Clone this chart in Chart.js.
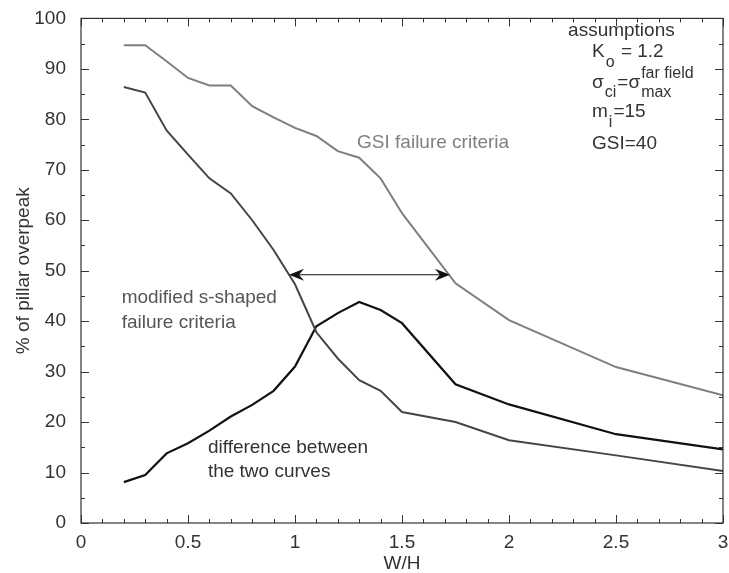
<!DOCTYPE html>
<html>
<head>
<meta charset="utf-8">
<script src="https://cdn.jsdelivr.net/npm/chart.js@4"></script>
<style>
  html, body { margin: 0; padding: 0; background: #fff; }
  canvas { display: block; }
</style>
</head>
<body>
<canvas id="chart" width="729" height="573"></canvas>
<script>
// W/H ratios where the curves were sampled
const wh = [0.2, 0.3, 0.4, 0.5, 0.6, 0.7, 0.8, 0.9, 1.0, 1.1, 1.2, 1.3, 1.4, 1.5, 1.75, 2.0, 2.5, 3.0];
// % of pillar overpeak
const gsiCurve = [94.7, 94.7, 91.5, 88.2, 86.7, 86.7, 82.6, 80.4, 78.3, 76.7, 73.7, 72.4, 68.3, 61.4, 47.5, 40.2, 30.9, 25.3];
const sShapedCurve = [86.4, 85.3, 77.8, 73.0, 68.3, 65.3, 60.0, 54.1, 47.3, 37.8, 32.6, 28.3, 26.2, 22.0, 20.0, 16.4, 13.4, 10.3];
const diffCurve = [8.1, 9.5, 13.8, 15.8, 18.3, 21.1, 23.4, 26.2, 31.0, 39.0, 41.6, 43.8, 42.2, 39.6, 27.5, 23.5, 17.6, 14.6];

const xTicks = [0, 0.5, 1, 1.5, 2, 2.5, 3];
const yTicks = [0, 10, 20, 30, 40, 50, 60, 70, 80, 90, 100];

// double arrow between the two failure curves (data coords)
const arrowFrom = [0.972, 49.2];
const arrowTo = [1.724, 49.2];

const FONT = '"Liberation Sans", Arial, sans-serif';

function pts(ys) {
    return wh.map(function (x, i) { return { x: x, y: ys[i] }; });
}

// text labels, anchored in data coordinates
const labels = [
    { x: 1.29, y: 75.4, parts: [{ t: 'GSI failure criteria' }], color: '#808080' },
    { x: 0.19, y: 44.6, parts: [{ t: 'modified s-shaped' }], color: '#555' },
    { x: 0.19, y: 39.6, parts: [{ t: 'failure criteria' }], color: '#555' },
    { x: 0.593, y: 15.0, parts: [{ t: 'difference between' }], color: '#333' },
    { x: 0.593, y: 10.1, parts: [{ t: 'the two curves' }], color: '#333' },
    { x: 2.276, y: 97.6, parts: [{ t: 'assumptions' }], color: '#333' },
    { x: 2.388, y: 93.3, parts: [{ t: 'K' }, { sub: 'o' }, { t: ' = 1.2' }], color: '#333' },
    { x: 2.388, y: 87.3, parts: [{ t: '\u03c3' }, { sub: 'ci' }, { t: '=\u03c3' }, { sup: 'far field', sub: 'max' }], color: '#333' },
    { x: 2.388, y: 81.4, parts: [{ t: 'm' }, { sub: 'i' }, { t: '=15' }], color: '#333' },
    { x: 2.388, y: 75.2, parts: [{ t: 'GSI=40' }], color: '#333' }
];

function drawArrowHead(ctx, x, y, dir) {
    // dir = +1 points right, -1 points left
    ctx.beginPath();
    ctx.moveTo(x, y);
    ctx.lineTo(x - dir * 15, y - 6);
    ctx.lineTo(x - dir * 10, y);
    ctx.lineTo(x - dir * 15, y + 6);
    ctx.closePath();
    ctx.fill();
}

const decor = {
    id: 'decor',
    afterDatasetsDraw: function (chart) {
        const ctx = chart.ctx;
        const xs = chart.scales.x, ys = chart.scales.y;
        const a = chart.chartArea;
        ctx.save();

        // frame
        ctx.strokeStyle = '#333';
        ctx.lineWidth = 1.2;
        ctx.strokeRect(a.left, a.top, a.right - a.left, a.bottom - a.top);

        // inward ticks
        ctx.lineWidth = 1;
        ctx.beginPath();
        for (let i = 0; i <= 30; i++) {
            const px = Math.round(xs.getPixelForValue(i / 10)) + 0.5;
            const len = i % 5 === 0 ? 8 : 4;
            ctx.moveTo(px, a.bottom); ctx.lineTo(px, a.bottom - len);
            ctx.moveTo(px, a.top); ctx.lineTo(px, a.top + len);
        }
        for (let i = 0; i <= 20; i++) {
            const py = Math.round(ys.getPixelForValue(i * 5)) + 0.5;
            const len = i % 2 === 0 ? 8 : 4;
            ctx.moveTo(a.left, py); ctx.lineTo(a.left + len, py);
            ctx.moveTo(a.right, py); ctx.lineTo(a.right - len, py);
        }
        ctx.stroke();

        // double arrow
        const x1 = xs.getPixelForValue(arrowFrom[0]);
        const x2 = xs.getPixelForValue(arrowTo[0]);
        const ay = ys.getPixelForValue(arrowFrom[1]);
        ctx.strokeStyle = '#111';
        ctx.fillStyle = '#111';
        ctx.lineWidth = 1.2;
        ctx.beginPath();
        ctx.moveTo(x1 + 10, ay); ctx.lineTo(x2 - 10, ay);
        ctx.stroke();
        drawArrowHead(ctx, x1, ay, -1);
        drawArrowHead(ctx, x2, ay, 1);

        // text labels
        ctx.textBaseline = 'middle';
        ctx.textAlign = 'left';
        labels.forEach(function (lb) {
            let px = xs.getPixelForValue(lb.x);
            const py = ys.getPixelForValue(lb.y);
            ctx.fillStyle = lb.color;
            lb.parts.forEach(function (p) {
                if (p.t) {
                    ctx.font = '19px ' + FONT;
                    ctx.fillText(p.t, px, py);
                    px += ctx.measureText(p.t).width;
                } else {
                    ctx.font = '16px ' + FONT;
                    let w = 0;
                    if (p.sup) {
                        ctx.fillText(p.sup, px + 1, py - 9);
                        w = Math.max(w, ctx.measureText(p.sup).width);
                    }
                    if (p.sub) {
                        ctx.fillText(p.sub, px + 1, py + 10);
                        w = Math.max(w, ctx.measureText(p.sub).width);
                    }
                    px += w + 2;
                }
            });
        });
        ctx.restore();
    }
};

new Chart(document.getElementById('chart'), {
    type: 'line',
    data: {
        datasets: [
            {
                label: 'GSI failure criteria',
                data: pts(gsiCurve),
                borderColor: '#7f7f7f',
                borderWidth: 2,
                pointRadius: 0,
                tension: 0
            },
            {
                label: 'modified s-shaped failure criteria',
                data: pts(sShapedCurve),
                borderColor: '#464646',
                borderWidth: 2,
                pointRadius: 0,
                tension: 0
            },
            {
                label: 'difference between the two curves',
                data: pts(diffCurve),
                borderColor: '#111',
                borderWidth: 2.2,
                pointRadius: 0,
                tension: 0
            }
        ]
    },
    options: {
        responsive: false,
        animation: false,
        devicePixelRatio: 1,
        layout: { padding: { top: 18, right: 6, left: 0, bottom: 0 } },
        plugins: {
            legend: { display: false },
            tooltip: { enabled: false }
        },
        scales: {
            x: {
                type: 'linear',
                min: 0,
                max: 3,
                afterBuildTicks: function (s) { s.ticks = xTicks.map(function (v) { return { value: v }; }); },
                afterFit: function (s) { s.height = 50; },
                grid: { display: false },
                border: { display: false },
                ticks: {
                    color: '#333',
                    font: { size: 19, family: FONT },
                    padding: 0,
                    callback: function (v) { return String(v); }
                },
                title: {
                    display: true,
                    text: 'W/H',
                    color: '#333',
                    font: { size: 19, family: FONT, lineHeight: 1 },
                    padding: { top: 0, bottom: 0 }
                }
            },
            y: {
                min: 0,
                max: 100,
                afterBuildTicks: function (s) { s.ticks = yTicks.map(function (v) { return { value: v }; }); },
                afterFit: function (s) { s.width = 81; },
                grid: { display: false },
                border: { display: false },
                ticks: { color: '#333', font: { size: 19, family: FONT }, padding: 7 },
                title: {
                    display: true,
                    text: '% of pillar overpeak',
                    color: '#333',
                    font: { size: 19, family: FONT, lineHeight: 1 },
                    padding: { top: 14, bottom: 0 }
                }
            }
        }
    },
    plugins: [decor]
});
</script>
</body>
</html>
